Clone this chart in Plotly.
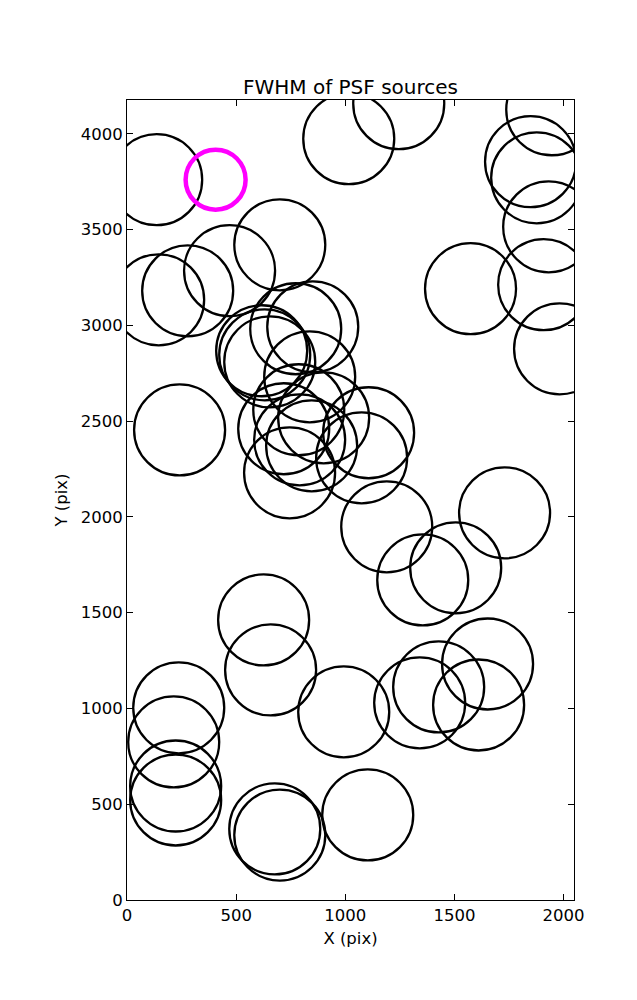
import plotly.graph_objects as go

# Source positions (pix)
src_x = [136, 1016, 1245, 1946, 1849, 1877, 1932, 1909, 1982, 1574,
         145, 278, 470, 700, 617, 631, 654, 773, 851, 837,
         787, 901, 718, 1107, 791, 846, 1075, 745, 241, 1190,
         1730, 1506, 1355, 626, 658, 237, 214, 223, 223, 993,
         1652, 1428, 1341, 1611, 677, 700, 1103]
src_y = [3760, 3974, 4157, 4125, 3854, 3770, 3514, 3212, 2877, 3191,
         3133, 3180, 3285, 3420, 2867, 2846, 2809, 2982, 2992, 2731,
         2559, 2517, 2460, 2439, 2402, 2371, 2308, 2230, 2454, 1948,
         2021, 1734, 1671, 1462, 1201, 1003, 825, 595, 522, 982,
         1232, 1112, 1029, 1018, 371, 339, 444]

# Highlighted source
hl_x = [406]
hl_y = [3760]

x_ticks = [0, 500, 1000, 1500, 2000]
y_ticks = [0, 500, 1000, 1500, 2000, 2500, 3000, 3500, 4000]
x_range = [0, 2048]
y_range = [0, 4176]

font = "DejaVu Sans"

fig = go.Figure()
fig.add_trace(go.Scatter(
    x=src_x, y=src_y, mode="markers",
    marker=dict(symbol="circle-open", size=91, color="black",
                line=dict(color="black", width=2.3)),
    showlegend=False, hoverinfo="skip"))
fig.add_trace(go.Scatter(
    x=hl_x, y=hl_y, mode="markers",
    marker=dict(symbol="circle-open", size=60, color="#ff00ff",
                line=dict(color="#ff00ff", width=4.5)),
    showlegend=False, hoverinfo="skip"))

axis_common = dict(
    showline=True, linecolor="black", linewidth=1, mirror="allticks",
    ticks="inside", ticklen=6, tickwidth=1, tickcolor="black",
    showgrid=False, zeroline=False,
    tickfont=dict(family=font, size=16.5, color="black"),
)

# page body adds an 8px offset, so the figure is 8px smaller than the window
fig.update_layout(
    width=629, height=992,
    margin=dict(l=119, r=63, t=92, b=100),
    paper_bgcolor="white", plot_bgcolor="white",
    title=dict(text="FWHM of PSF sources", x=(127 + 574) / 2 / 629 - 8 / 629, xanchor="center",
               y=1 - 79 / 992, yanchor="middle",
               font=dict(family=font, size=20, color="black")),
    xaxis=dict(range=x_range, tickvals=x_ticks,
               title=dict(text="X (pix)", font=dict(family=font, size=16.5, color="black"), standoff=8),
               **axis_common),
    yaxis=dict(range=y_range, tickvals=y_ticks,
               title=dict(text="Y (pix)", font=dict(family=font, size=16.5, color="black"), standoff=8),
               **axis_common),
    font=dict(family=font, color="black"),
)

fig.write_html("out.html")
